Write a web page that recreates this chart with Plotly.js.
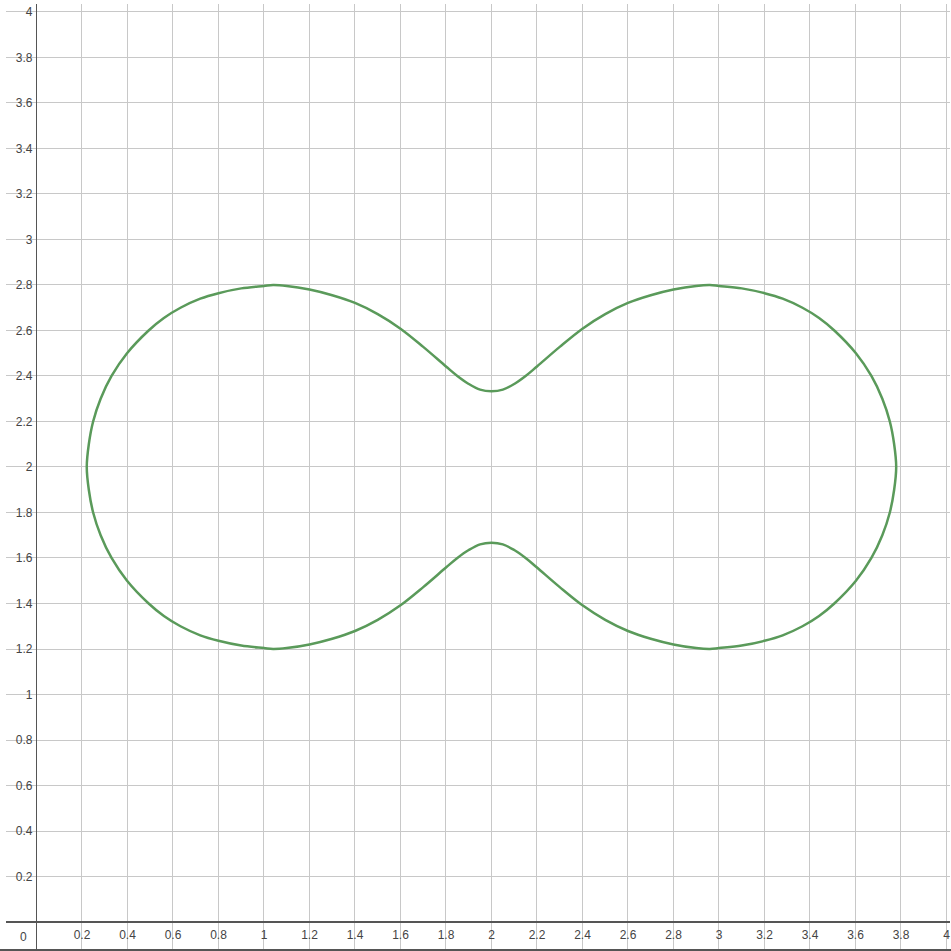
<!DOCTYPE html>
<html>
<head>
<meta charset="utf-8">
<script src="https://cdn.plot.ly/plotly-3.0.1.min.js"></script>
<style>
  html, body { margin: 0; padding: 0; background: #fff; }
  #chart { width: 951px; height: 951px; }
</style>
</head>
<body>
<div id="chart"></div>
<script>
// Closed curve (leftmost point first, clockwise)
const curveX = [
    0.221, 0.230, 0.249, 0.282, 0.330, 0.398, 0.493, 0.560, 0.633, 0.720,
    0.800, 0.900, 1.000, 1.040, 1.100, 1.200, 1.300, 1.400, 1.500, 1.600,
    1.700, 1.800, 1.850, 1.900, 1.950, 2.000,
    2.050, 2.100, 2.150, 2.200, 2.300, 2.400, 2.500, 2.600, 2.700, 2.800,
    2.900, 2.960, 3.000, 3.100, 3.200, 3.280, 3.367, 3.440, 3.507, 3.602,
    3.670, 3.718, 3.751, 3.770, 3.779,
    3.770, 3.751, 3.718, 3.670, 3.602, 3.507, 3.440, 3.367, 3.280, 3.200,
    3.100, 3.000, 2.960, 2.900, 2.800, 2.700, 2.600, 2.500, 2.400, 2.300,
    2.200, 2.150, 2.100, 2.050, 2.000,
    1.950, 1.900, 1.850, 1.800, 1.700, 1.600, 1.500, 1.400, 1.300, 1.200,
    1.100, 1.040, 1.000, 0.900, 0.800, 0.720, 0.633, 0.560, 0.493, 0.398,
    0.330, 0.282, 0.249, 0.230, 0.221
];
const curveY = [
    2.000, 2.100, 2.200, 2.300, 2.400, 2.500, 2.600, 2.655, 2.700, 2.740,
    2.764, 2.785, 2.796, 2.800, 2.796, 2.780, 2.755, 2.721, 2.672, 2.608,
    2.528, 2.442, 2.400, 2.365, 2.340, 2.333,
    2.340, 2.365, 2.400, 2.442, 2.528, 2.608, 2.672, 2.721, 2.755, 2.780,
    2.796, 2.800, 2.796, 2.785, 2.764, 2.740, 2.700, 2.655, 2.600, 2.500,
    2.400, 2.300, 2.200, 2.100, 2.000,
    1.900, 1.800, 1.700, 1.600, 1.500, 1.400, 1.345, 1.300, 1.260, 1.236,
    1.215, 1.204, 1.200, 1.204, 1.220, 1.245, 1.279, 1.328, 1.392, 1.472,
    1.558, 1.600, 1.635, 1.660, 1.667,
    1.660, 1.635, 1.600, 1.558, 1.472, 1.392, 1.328, 1.279, 1.245, 1.220,
    1.204, 1.200, 1.204, 1.215, 1.236, 1.260, 1.300, 1.345, 1.400, 1.500,
    1.600, 1.700, 1.800, 1.900, 2.000
];

// Tick positions (0 is shown once at the origin)
const xTickVals = [0.2, 0.4, 0.6, 0.8, 1, 1.2, 1.4, 1.6, 1.8, 2, 2.2, 2.4, 2.6, 2.8, 3, 3.2, 3.4, 3.6, 3.8, 4];
const yTickVals = [0.2, 0.4, 0.6, 0.8, 1, 1.2, 1.4, 1.6, 1.8, 2, 2.2, 2.4, 2.6, 2.8, 3, 3.2, 3.4, 3.6, 3.8, 4];
const originLabel = '0';

const xRange = [-0.134, 4.0155];
const yRange = [-0.123, 4.035];

const labelFont = { family: 'Arial, "Liberation Sans", sans-serif', size: 12, color: '#444' };

Plotly.newPlot('chart', [{
    x: curveX,
    y: curveY,
    mode: 'lines',
    line: { color: '#5a9a5a', width: 2.5, shape: 'spline', smoothing: 1 },
    hoverinfo: 'none',
    showlegend: false
}], {
    width: 951,
    height: 951,
    margin: { l: 6, r: 1, t: 4, b: 1 },
    paper_bgcolor: '#fff',
    plot_bgcolor: '#fff',
    xaxis: {
        range: xRange,
        anchor: 'free',
        position: -yRange[0] / (yRange[1] - yRange[0]),
        tickvals: xTickVals,
        ticks: '',
        showgrid: true,
        gridcolor: '#c8c8c8',
        gridwidth: 1,
        zeroline: true,
        zerolinecolor: '#555',
        zerolinewidth: 1.5,
        showline: false,
        tickfont: labelFont,
        ticklabelstandoff: 4
    },
    yaxis: {
        range: yRange,
        anchor: 'free',
        position: -xRange[0] / (xRange[1] - xRange[0]),
        tickvals: yTickVals,
        ticks: '',
        showgrid: true,
        gridcolor: '#c8c8c8',
        gridwidth: 1,
        zeroline: true,
        zerolinecolor: '#555',
        zerolinewidth: 1.5,
        showline: false,
        tickfont: labelFont,
        ticklabelstandoff: 4
    },
    annotations: [{
        x: 0, y: 0,
        xref: 'x', yref: 'y',
        text: originLabel,
        showarrow: false,
        xanchor: 'right', yanchor: 'top',
        xshift: -7, yshift: -6,
        font: labelFont
    }],
    shapes: [{
        type: 'line',
        xref: 'paper', yref: 'paper',
        x0: -0.01, x1: 1.01, y0: 0, y1: 0,
        line: { color: '#555', width: 2 }
    }]
}, { displayModeBar: false, staticPlot: true });
</script>
</body>
</html>
